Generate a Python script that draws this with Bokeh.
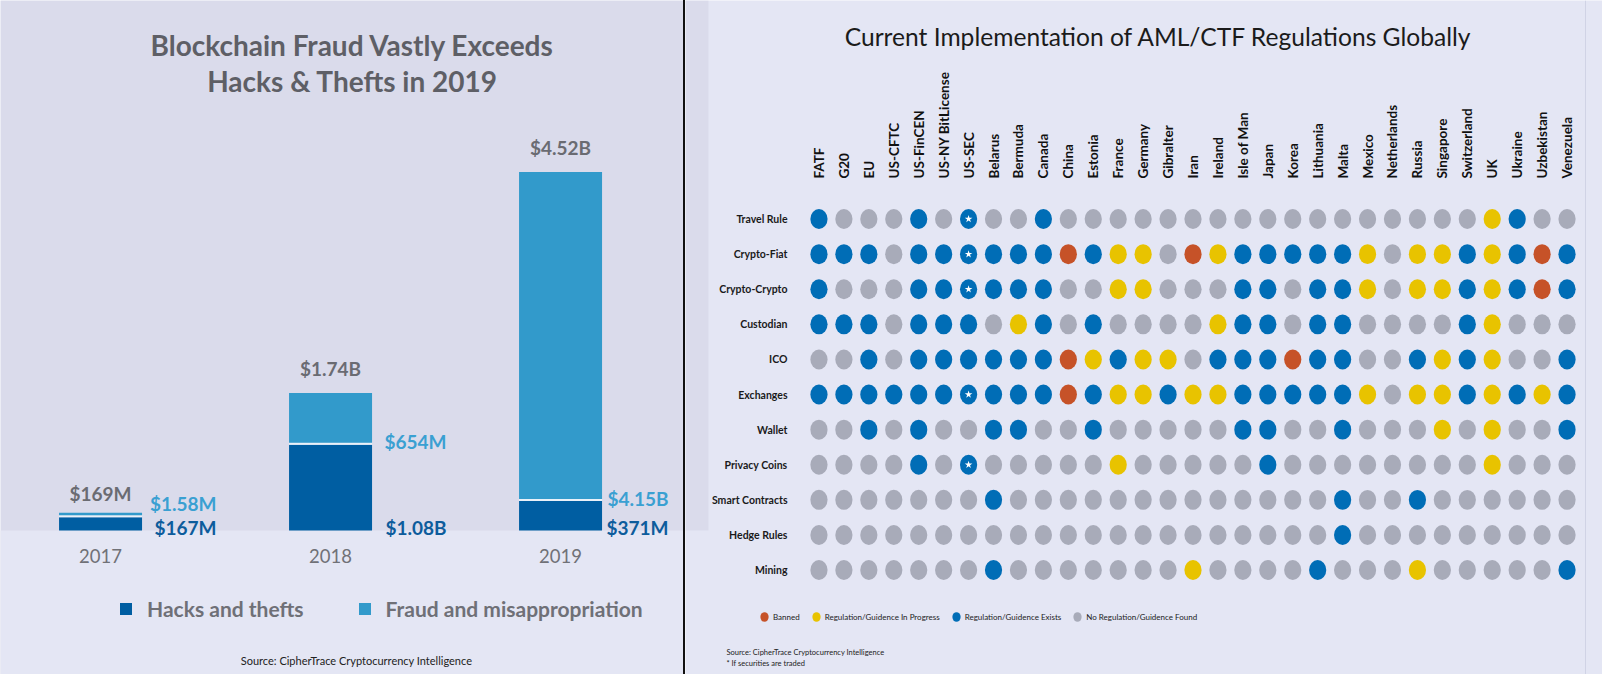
import math
from bokeh.plotting import figure
from bokeh.models import (Range1d, FixedTicker, Label, Legend, LegendItem,
                          ColumnDataSource, Spacer, BoxAnnotation, LinearAxis, Span)
from bokeh.layouts import row
from bokeh.core.properties import value
from bokeh.embed import file_html
from bokeh.resources import INLINE

# ---------------- left chart data ($ millions) ----------------
years = [2017, 2018, 2019]
year_labels = ["2017", "2018", "2019"]
hacks = [167, 1080, 371]
fraud = [1.58, 654, 4150]
hacks_labels = ["$167M", "$1.08B", "$371M"]
fraud_labels = ["$1.58M", "$654M", "$4.15B"]
total_labels = ["$169M", "$1.74B", "$4.52B"]

# ---------------- right chart data ----------------
regulations = ["Travel Rule", "Crypto-Fiat", "Crypto-Crypto", "Custodian", "ICO",
               "Exchanges", "Wallet", "Privacy Coins", "Smart Contracts",
               "Hedge Rules", "Mining"]
jurisdictions = ["FATF", "G20", "EU", "US-CFTC", "US-FinCEN", "US-NY BitLicense",
                 "US-SEC", "Belarus", "Bermuda", "Canada", "China", "Estonia",
                 "France", "Germany", "Gibralter", "Iran", "Ireland", "Isle of Man",
                 "Japan", "Korea", "Lithuania", "Malta", "Mexico", "Netherlands",
                 "Russia", "Singapore", "Switzerland", "UK", "Ukraine", "Uzbekistan",
                 "Venezuela"]
# R = banned, Y = in progress, B = exists, G = none found
status_rows = [
    "BGGGBGBGGBGGGG" + "GGGGGGGGGGGGGYBGG",
    "BBBGBBBBBBRBYY" + "GRYBBBBBYGYYBYBRB",
    "BGGGBBBBBBGGYY" + "GGGBBGBBYGYYBYBRB",
    "BBBGBBBGYBGBGG" + "GGYBBGBBGGGGBYGGG",
    "GGBGBBBBBBRYBY" + "YGBBBRBBGGBYBYGGB",
    "BBBBBBBBBBRBYY" + "BYYBBBBBYGYYBYBYB",
    "GGBGBGGBBGGBGG" + "GGGBBGGBGGGYGYGGB",
    "GGGGBGBGGGGGYG" + "GGGGBGGGGGGGGYGGG",
    "GGGGGGGBGGGGGG" + "GGGGGGGBGGBGGGGGG",
    "GGGGGGGGGGGGGG" + "GGGGGGGBGGGGGGGGG",
    "GGGGGGGBGGGGGG" + "GYGGGGBGGGYGGGGGB",
]
starred_jurisdiction = "US-SEC"
starred_rows = ["Travel Rule", "Crypto-Fiat", "Crypto-Crypto", "Exchanges", "Privacy Coins"]
status_order = ["R", "Y", "B", "G"]
status_names = ["Banned", "Regulation/Guidence In Progress",
                "Regulation/Guidence Exists", "No Regulation/Guidence Found"]
status_colors = ["#c65228", "#e8c300", "#006db6", "#a8abb9"]

# ---------------- styling ----------------
H = 674
W1 = 683
BASE_Y = 530          # canvas y of the bar baseline
PX_PER_YEAR = 230.0
X_START = 2016.565
X_END = X_START + W1 / PX_PER_YEAR
pxpm = 0.0793         # pixels per $M
DARK = "#005ea2"
LIGHT = "#329acb"
DARK_TXT = "#0d5c9c"
LIGHT_TXT = "#3aa0d2"
GREY_TXT = "#6a6b72"
TOP_BG = "#dadbeb"
LOW_BG = "#e4e6f4"
FONT = "Lato"


def no_align(p):
    try:
        p.frame_align = False
    except Exception:
        pass


p1 = figure(width=W1, height=H, x_range=Range1d(X_START, X_END),
            y_range=Range1d(-(H - BASE_Y) / pxpm, BASE_Y / pxpm),
            output_backend="svg", toolbar_location=None,
            min_border=0, x_axis_location=None, y_axis_location=None)
no_align(p1)
p1.background_fill_color = TOP_BG
p1.border_fill_color = LOW_BG
p1.outline_line_color = None
p1.grid.visible = False
p1.add_layout(BoxAnnotation(top=0, fill_color=LOW_BG, fill_alpha=1, line_color=None,
                            level="underlay"))

bw = 83 / PX_PER_YEAR
gap = 2 / pxpm
min_h = 2.5 / pxpm
fraud_bottom = [h + gap for h in hacks]
fraud_top = [max(h + f, h + gap + min_h) for h, f in zip(hacks, fraud)]
totals = [h + f for h, f in zip(hacks, fraud)]

r_h = p1.vbar(x=years, bottom=0, top=hacks, width=bw, fill_color=DARK, line_color=None)
p1.vbar(x=years, bottom=hacks, top=fraud_bottom, width=bw, fill_color="#e9f1f9", line_color=None)
r_f = p1.vbar(x=years, bottom=fraud_bottom, top=fraud_top, width=bw, fill_color=LIGHT, line_color=None)

label_x = [min(x + 116 / PX_PER_YEAR, X_END - 15 / PX_PER_YEAR) for x in years]
dark_y = 3 / pxpm
light_y = [max(h + 3 / pxpm, dark_y + 24 / pxpm) for h in hacks]
common = dict(text_baseline="alphabetic", text_font=value(FONT), text_font_style="bold",
              text_font_size="19px")
p1.text(x=years, y=[t + 24 / pxpm for t in totals], text=total_labels, text_align="center",
        text_color=GREY_TXT, **common)
p1.text(x=label_x, y=[dark_y] * 3, text=hacks_labels, text_align="right",
        text_color=DARK_TXT, **common)
p1.text(x=label_x, y=light_y, text=fraud_labels, text_align="right",
        text_color=LIGHT_TXT, **common)

ax = LinearAxis(fixed_location=0, ticker=FixedTicker(ticks=years),
                major_label_overrides={y: l for y, l in zip(years, year_labels)})
ax.axis_line_color = None
ax.major_tick_line_color = None
ax.minor_tick_line_color = None
ax.major_tick_out = 0
ax.major_tick_in = 0
ax.major_label_standoff = 18
ax.major_label_text_font = FONT
ax.major_label_text_font_size = "18.5px"
ax.major_label_text_color = "#707177"
p1.add_layout(ax, "below")

for txt, yy in [("Blockchain Fraud Vastly Exceeds", H - 44), ("Hacks & Thefts in 2019", H - 80)]:
    p1.add_layout(Label(x=352, y=yy, x_units="screen", y_units="screen", text=txt,
                        text_align="center", text_baseline="alphabetic", text_font=FONT,
                        text_font_style="bold", text_font_size="28px", text_color="#5e5f66"))
p1.add_layout(Label(x=356, y=H - 660, x_units="screen", y_units="screen",
                    text="Source: CipherTrace Cryptocurrency Intelligence", text_align="center",
                    text_baseline="middle", text_font=FONT, text_font_size="11px",
                    text_color="#222222"))

leg1 = Legend(items=[LegendItem(label="Hacks and thefts", renderers=[r_h]),
                     LegendItem(label="Fraud and misappropriation", renderers=[r_f])],
              orientation="horizontal", location=(118, H - 621), glyph_width=15,
              glyph_height=15, label_height=15, label_standoff=14, spacing=53, padding=0,
              margin=0, border_line_color=None, background_fill_alpha=0, label_text_font=FONT,
              label_text_font_style="bold", label_text_font_size="21px",
              label_text_color="#6f7077")
p1.add_layout(leg1)

# ---------------- divider ----------------
SEP_W = 2
sep = Spacer(width=SEP_W, height=H, sizing_mode="fixed", styles={"background": "#111111"})

# ---------------- right chart ----------------
W2 = 1602 - W1 - SEP_W
OX = W1 + SEP_W            # canvas x of right figure
COL_W = 773 / 31           # pixels per jurisdiction column
ROW_H = 35.1               # pixels per regulation row
GRID_LEFT, GRID_TOP = 806 - OX, 201
n_rows, n_cols = len(regulations), len(jurisdictions)
x_lo = -GRID_LEFT / COL_W
y_hi = n_rows + GRID_TOP / ROW_H
p2 = figure(width=W2, height=H, x_range=Range1d(x_lo, x_lo + W2 / COL_W),
            y_range=Range1d(y_hi - H / ROW_H, y_hi), output_backend="svg",
            toolbar_location=None, min_border=0, x_axis_location=None, y_axis_location=None)
no_align(p2)
p2.background_fill_color = LOW_BG
p2.border_fill_color = LOW_BG
p2.outline_line_color = None
p2.grid.visible = False
# strip of the left picture that shows past the divider, and the right picture's edge line
p2.add_layout(BoxAnnotation(right=x_lo + 23 / COL_W, bottom=y_hi - BASE_Y / ROW_H,
                            fill_color=TOP_BG, fill_alpha=1, line_color=None, level="underlay"))
p2.add_layout(Span(location=x_lo + (1585 - OX) / COL_W, dimension="height",
                   line_color="#d0d3e5", line_width=1, level="underlay"))

col_pos = {j: i + 0.5 for i, j in enumerate(jurisdictions)}
row_pos = {r: n_rows - k - 0.5 for k, r in enumerate(regulations)}

renderers = {}
for code, color in zip(status_order, status_colors):
    xs, ys = [], []
    for reg, codes in zip(regulations, status_rows):
        for jur, c in zip(jurisdictions, codes):
            if c == code:
                xs.append(col_pos[jur])
                ys.append(row_pos[reg])
    src = ColumnDataSource(data=dict(x=xs, y=ys))
    renderers[code] = p2.ellipse(x="x", y="y", width=17.2 / COL_W, height=20 / ROW_H,
                                 source=src, fill_color=color, line_color=None)

p2.scatter(x=[col_pos[starred_jurisdiction]] * len(starred_rows),
           y=[row_pos[r] for r in starred_rows], marker="star",
           size=8, fill_color="white", line_color=None)

xa = LinearAxis(fixed_location=n_rows, ticker=FixedTicker(ticks=list(col_pos.values())),
                major_label_overrides={v: k for k, v in col_pos.items()})
xa.axis_line_color = None
xa.major_tick_line_color = None
xa.minor_tick_line_color = None
xa.major_tick_out = 0
xa.major_tick_in = 0
xa.major_label_orientation = math.pi / 2
xa.major_label_standoff = 23
xa.major_label_text_font = FONT
xa.major_label_text_font_style = "bold"
xa.major_label_text_font_size = "13.5px"
xa.major_label_text_color = "#111111"
p2.add_layout(xa, "above")

ya = LinearAxis(fixed_location=0, ticker=FixedTicker(ticks=list(row_pos.values())),
                major_label_overrides={v: k for k, v in row_pos.items()})
ya.axis_line_color = None
ya.major_tick_line_color = None
ya.minor_tick_line_color = None
ya.major_tick_out = 0
ya.major_tick_in = 0
ya.major_label_standoff = 19
ya.major_label_text_font = FONT
ya.major_label_text_font_style = "bold"
ya.major_label_text_font_size = "10.5px"
ya.major_label_text_color = "#1a1a1a"
p2.add_layout(ya, "left")

p2.add_layout(Label(x=1158 - OX, y=H - 36, x_units="screen", y_units="screen",
                    text="Current Implementation of AML/CTF Regulations Globally",
                    text_align="center", text_baseline="alphabetic", text_font=FONT,
                    text_font_size="24.6px", text_color="#1b1b1b"))

leg2 = Legend(items=[LegendItem(label=n, renderers=[renderers[c]])
                     for c, n in zip(status_order, status_names)],
              orientation="horizontal", location=(758 - OX, H - 626), glyph_width=12,
              glyph_height=19, label_height=19, label_standoff=3, spacing=10, padding=0,
              margin=0, border_line_color=None, background_fill_alpha=0,
              label_text_font=FONT, label_text_font_size="8px", label_text_color="#222222")
p2.add_layout(leg2)

for txt, yy in [("Source: CipherTrace Cryptocurrency Intelligence", 652),
                ("* If securities are traded", 663)]:
    p2.add_layout(Label(x=726 - OX, y=H - yy, x_units="screen", y_units="screen", text=txt,
                        text_align="left", text_baseline="middle", text_font=FONT,
                        text_font_size="7.5px", text_color="#222222"))

layout = row(p1, sep, p2)
open("out.html", "w").write(file_html(layout, INLINE))
